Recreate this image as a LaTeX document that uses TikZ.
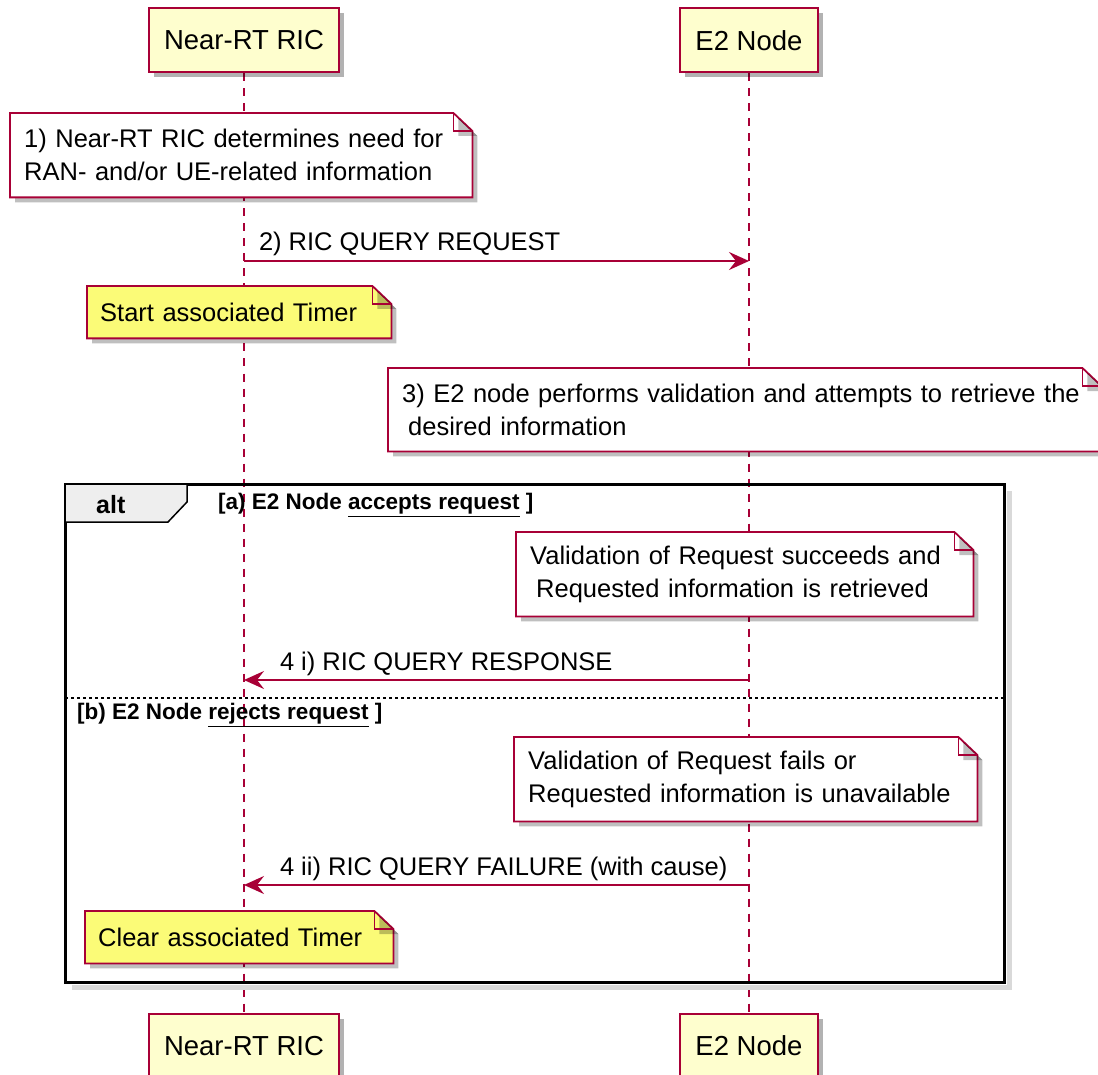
\documentclass[tikz,border=0pt]{standalone}
\usepackage{fontspec}
\setmainfont{Liberation Sans}
\usepackage{xcolor}
\usepackage{tikz}
\usetikzlibrary{positioning, calc, arrows.meta, shadows, backgrounds}
\definecolor{ricRed}{HTML}{A80036}
\definecolor{partFill}{HTML}{FEFECE}
\definecolor{timerFill}{HTML}{FBFB77}
\definecolor{tabFill}{HTML}{EEEEEE}
\newcommand{\partfont}{\fontsize{27.5}{33}\selectfont}
\newcommand{\msgfont}{\fontsize{25.5}{33}\selectfont}
\newcommand{\altfont}{\fontsize{22.5}{26}\selectfont\bfseries}
% outline of a note with a folded corner, behind its text
\newcommand{\notefold}[2]{%
    \begin{scope}[on background layer]
        \draw[notebg, fill=#2] (#1.north west) -- ([xshift=-19pt]#1.north east)
            -- ([yshift=-18pt]#1.north east) -- (#1.south east) -- (#1.south west) -- cycle;
        \draw[notebg] ([xshift=-19pt]#1.north east) |- ([yshift=-18pt]#1.north east);
    \end{scope}}
\tikzset{
    participant/.style={
        draw=ricRed,
        line width=2pt,
        fill=partFill,
        font=\partfont,
        minimum height=64pt,
        inner xsep=15pt,
        drop shadow={shadow xshift=5pt, shadow yshift=-5pt, opacity=0.3, fill=black}
    },
    lifeline/.style={draw=ricRed, line width=1.5pt, dash pattern=on 8pt off 7pt},
    notetext/.style={
        font=\msgfont,
        align=left,
        anchor=north west,
        inner xsep=14pt,
        inner ysep=0pt,
        text width=#1
    },
    notebg/.style={
        line width=1.8pt,
        draw=ricRed,
        drop shadow={shadow xshift=5pt, shadow yshift=-5pt, opacity=0.25, fill=black}
    },
    msg/.style={
        draw=ricRed,
        line width=2pt,
        -{Stealth[length=20pt, width=18pt, inset=7pt]}
    },
    msglabel/.style={font=\msgfont, anchor=base west, inner sep=0pt},
    altframe/.style={draw=black, line width=3pt},
    frameShadow/.style={draw=black!15, line width=5pt},
    alttab/.style={draw=black, line width=1.5pt, fill=tabFill},
    altlabel/.style={font=\altfont, anchor=west, inner sep=0pt},
    altsep/.style={draw=black, line width=1.5pt, dash pattern=on 3pt off 3pt}
}
\begin{document}
\begin{tikzpicture}[x=1pt, y=-1pt]
    \useasboundingbox (0,0) rectangle (1098,1075);

    % participants
    \node[participant] (ricTop) at (244,40.5) {Near-RT RIC};
    \node[participant] (e2Top) at (749,40.5) {E2 Node};
    \node[participant] (ricBot) at (244,1046) {Near-RT RIC};
    \node[participant] (e2Bot) at (749,1046) {E2 Node};

    \begin{scope}[on background layer]
        \draw[lifeline] (ricTop) -- (ricBot);
        \draw[lifeline] (e2Top) -- (e2Bot);
    \end{scope}

    % 1) and 2)
    \node[notetext=434pt, minimum height=84pt] (needNote) at (10,113)
        {1) Near-RT RIC determines need for\\RAN- and/or UE-related information};
    \notefold{needNote}{white}

    \coordinate (ricReq) at (ricTop |- 0,261);
    \coordinate (e2Req) at (e2Top |- 0,261);
    \draw[msg] (ricReq) -- (e2Req) node[msglabel, pos=0, xshift=14pt, yshift=10pt] {2) RIC QUERY REQUEST};

    \node[notetext=278pt, inner xsep=13pt, minimum height=52pt] (startNote) at (87,286) {Start associated Timer};
    \notefold{startNote}{timerFill}

    % 3)
    \node[notetext=685pt, minimum height=83pt] (checkNote) at (388,368)
        {3) E2 node performs validation and attempts to retrieve the\\\hspace*{6pt}desired information};
    \notefold{checkNote}{white}

    % alt frame
    \coordinate (altNW) at (65,484);
    \coordinate (altSE) at (1004,982);
    \draw[frameShadow] (1009,491) -- (1009,987) -- (72,987);
    \draw[altframe] (altNW) rectangle (altSE);
    \draw[alttab] (altNW) -- ++(122,0) -- ++(0,18) -- ++(-19,20) -- (altNW |- 0,522) -- cycle;
    \node[font=\fontsize{25}{28}\selectfont\bfseries, anchor=west, inner sep=0pt] (altName) at (96,505) {alt};
    \node[altlabel] (caseA) at (218,505) {[a) E2 Node \underline{accepts request} ]};

    \node[notetext=429pt, minimum height=84pt] (okNote) at (516,532)
        {Validation of Request succeeds and\\\hspace*{6pt}Requested information is retrieved};
    \notefold{okNote}{white}

    \coordinate (e2Resp) at (e2Top |- 0,680);
    \coordinate (ricResp) at (ricTop |- 0,680);
    \draw[msg] (e2Resp) -- (ricResp) node[msglabel, pos=1, xshift=35pt, yshift=10pt] {4 i) RIC QUERY RESPONSE};

    \draw[altsep] (altNW |- 0,698) -- (altSE |- 0,698);
    \node[altlabel] (caseB) at (77,715) {[b) E2 Node \underline{rejects request} ]};

    \node[notetext=435pt, minimum height=84pt] (failNote) at (514,737)
        {Validation of Request fails or\\Requested information is unavailable};
    \notefold{failNote}{white}

    \coordinate (e2Fail) at (e2Top |- 0,885);
    \coordinate (ricFail) at (ricTop |- 0,885);
    \draw[msg] (e2Fail) -- (ricFail) node[msglabel, pos=1, xshift=35pt, yshift=10pt] {4 ii) RIC QUERY FAILURE (with cause)};

    \node[notetext=282pt, inner xsep=13pt, minimum height=52pt] (clearNote) at (85,911) {Clear associated Timer};
    \notefold{clearNote}{timerFill}
\end{tikzpicture}
\end{document}
